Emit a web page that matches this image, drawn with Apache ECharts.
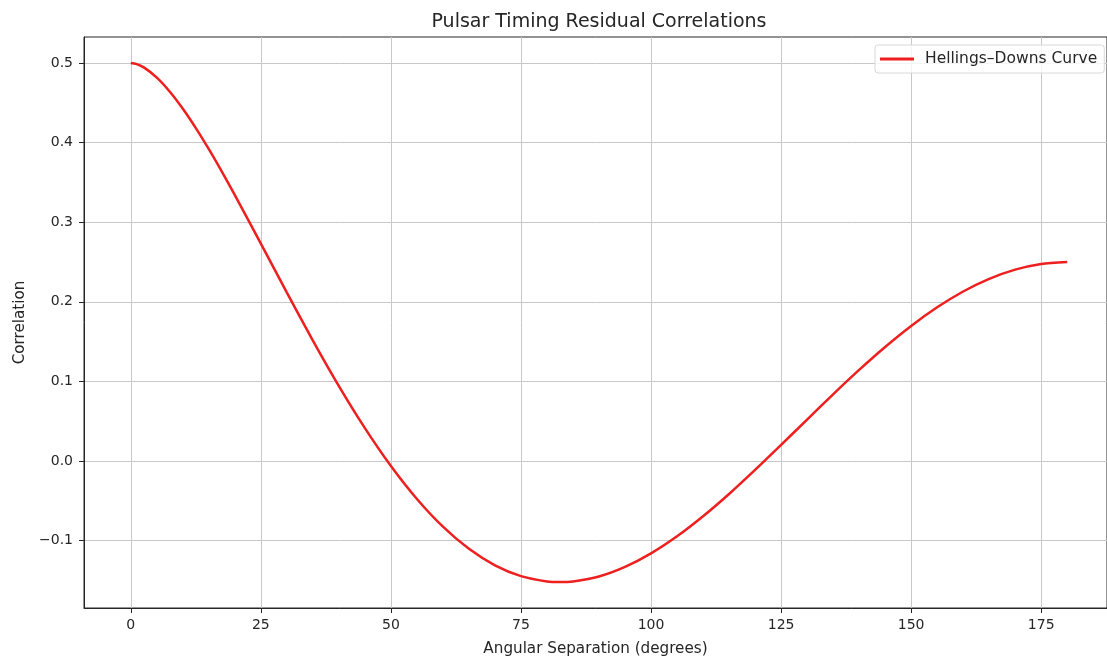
<!DOCTYPE html>
<html>
<head>
<meta charset="utf-8">
<script src="https://cdn.jsdelivr.net/npm/echarts@6/dist/echarts.min.js"></script>
<style>
  html, body { margin: 0; padding: 0; background: #fff; }
  #main { width: 1107px; height: 662px; }
</style>
</head>
<body>
<div id="main"></div>
<script>
// angular separation in degrees (denser near the flat top)
const angles = [0, 1, 2.5, 5, 7.5, 10, 12.5, 15, 17.5, 20, 25, 30, 35, 40, 45, 50, 55, 60, 65, 70, 75, 80, 82.5, 85, 90,
  95, 100, 105, 110, 115, 120, 125, 130, 135, 140, 145, 150, 155, 160, 165, 170, 175, 180];
const correlation = [0.5, 0.4989, 0.4944, 0.4816, 0.4639, 0.4425, 0.4182, 0.3917, 0.3635, 0.3341,
  0.2732, 0.2116, 0.1514, 0.0942, 0.0414,
  -0.0062, -0.0476, -0.0824, -0.1102, -0.1309, -0.1445, -0.1511, -0.1519, -0.1511, -0.1449,
  -0.1329, -0.1159, -0.0945, -0.0693, -0.0413, -0.0111, 0.0203, 0.0522, 0.0839, 0.1145,
  0.1433, 0.1697, 0.1931, 0.2130, 0.2289, 0.2405, 0.2476, 0.25];
const xTicks = [0, 25, 50, 75, 100, 125, 150, 175];
const yTicks = [-0.1, 0, 0.1, 0.2, 0.3, 0.4, 0.5];

const font = 'DejaVu Sans';
const ink = '#262626';

let chart = echarts.init(document.getElementById('main'));
let option = {
  animation: false,
  title: {
    text: 'Pulsar Timing Residual Correlations',
    left: 594, top: 8, textAlign: 'center',
    textStyle: { fontFamily: font, fontSize: 19, fontWeight: 'normal', color: ink }
  },
  legend: {
    left: 875, top: 45,
    data: ['Hellings–Downs Curve'],
    icon: 'rect', itemWidth: 34, itemHeight: 3,
    padding: [6, 7, 6, 5],
    borderColor: '#d8d8d8', borderWidth: 1, borderRadius: 3,
    backgroundColor: 'rgba(255,255,255,0.8)',
    textStyle: { fontFamily: font, fontSize: 15.5, color: ink, padding: [0, 0, 0, 6] }
  },
  // the right spine of the reference lies just past the picture edge
  grid: {
    left: 84, top: 37, width: 1024, height: 576,
    show: true, borderColor: ink, borderWidth: 1
  },
  xAxis: {
    type: 'value', min: -9, max: 187.65,
    name: 'Angular Separation (degrees)', nameLocation: 'middle', nameGap: 34,
    nameTextStyle: { fontFamily: font, fontSize: 15.2, color: ink },
    axisLine: { onZero: false, lineStyle: { color: ink, width: 1 } },
    axisTick: { show: true, length: 5, customValues: xTicks, lineStyle: { color: ink } },
    axisLabel: { customValues: xTicks, fontFamily: font, fontSize: 14, color: ink, margin: 10 },
    splitLine: { show: true, lineStyle: { color: '#c8c8c8', width: 1 } }
  },
  yAxis: {
    type: 'value', min: -0.1845, max: 0.5326,
    name: 'Correlation', nameLocation: 'middle', nameGap: 56, nameRotate: 90,
    nameTextStyle: { fontFamily: font, fontSize: 15.2, color: ink },
    axisLine: { show: true, onZero: false, lineStyle: { color: ink, width: 1 } },
    axisTick: { show: true, length: 5, customValues: yTicks, lineStyle: { color: ink } },
    axisLabel: {
      customValues: yTicks, fontFamily: font, fontSize: 14, color: ink, margin: 11,
      formatter: v => v.toFixed(1).replace('-', '\u2212')
    },
    splitLine: { show: true, lineStyle: { color: '#c8c8c8', width: 1 } }
  },
  series: [{
    name: 'Hellings–Downs Curve',
    type: 'line',
    data: angles.map((a, i) => [a, correlation[i]]),
    smooth: 0.25,
    showSymbol: false,
    itemStyle: { color: '#ee1f1f' },
    lineStyle: { color: '#ee1f1f', width: 2.5 }
  }]
};
option && chart.setOption(option);
</script>
</body>
</html>
